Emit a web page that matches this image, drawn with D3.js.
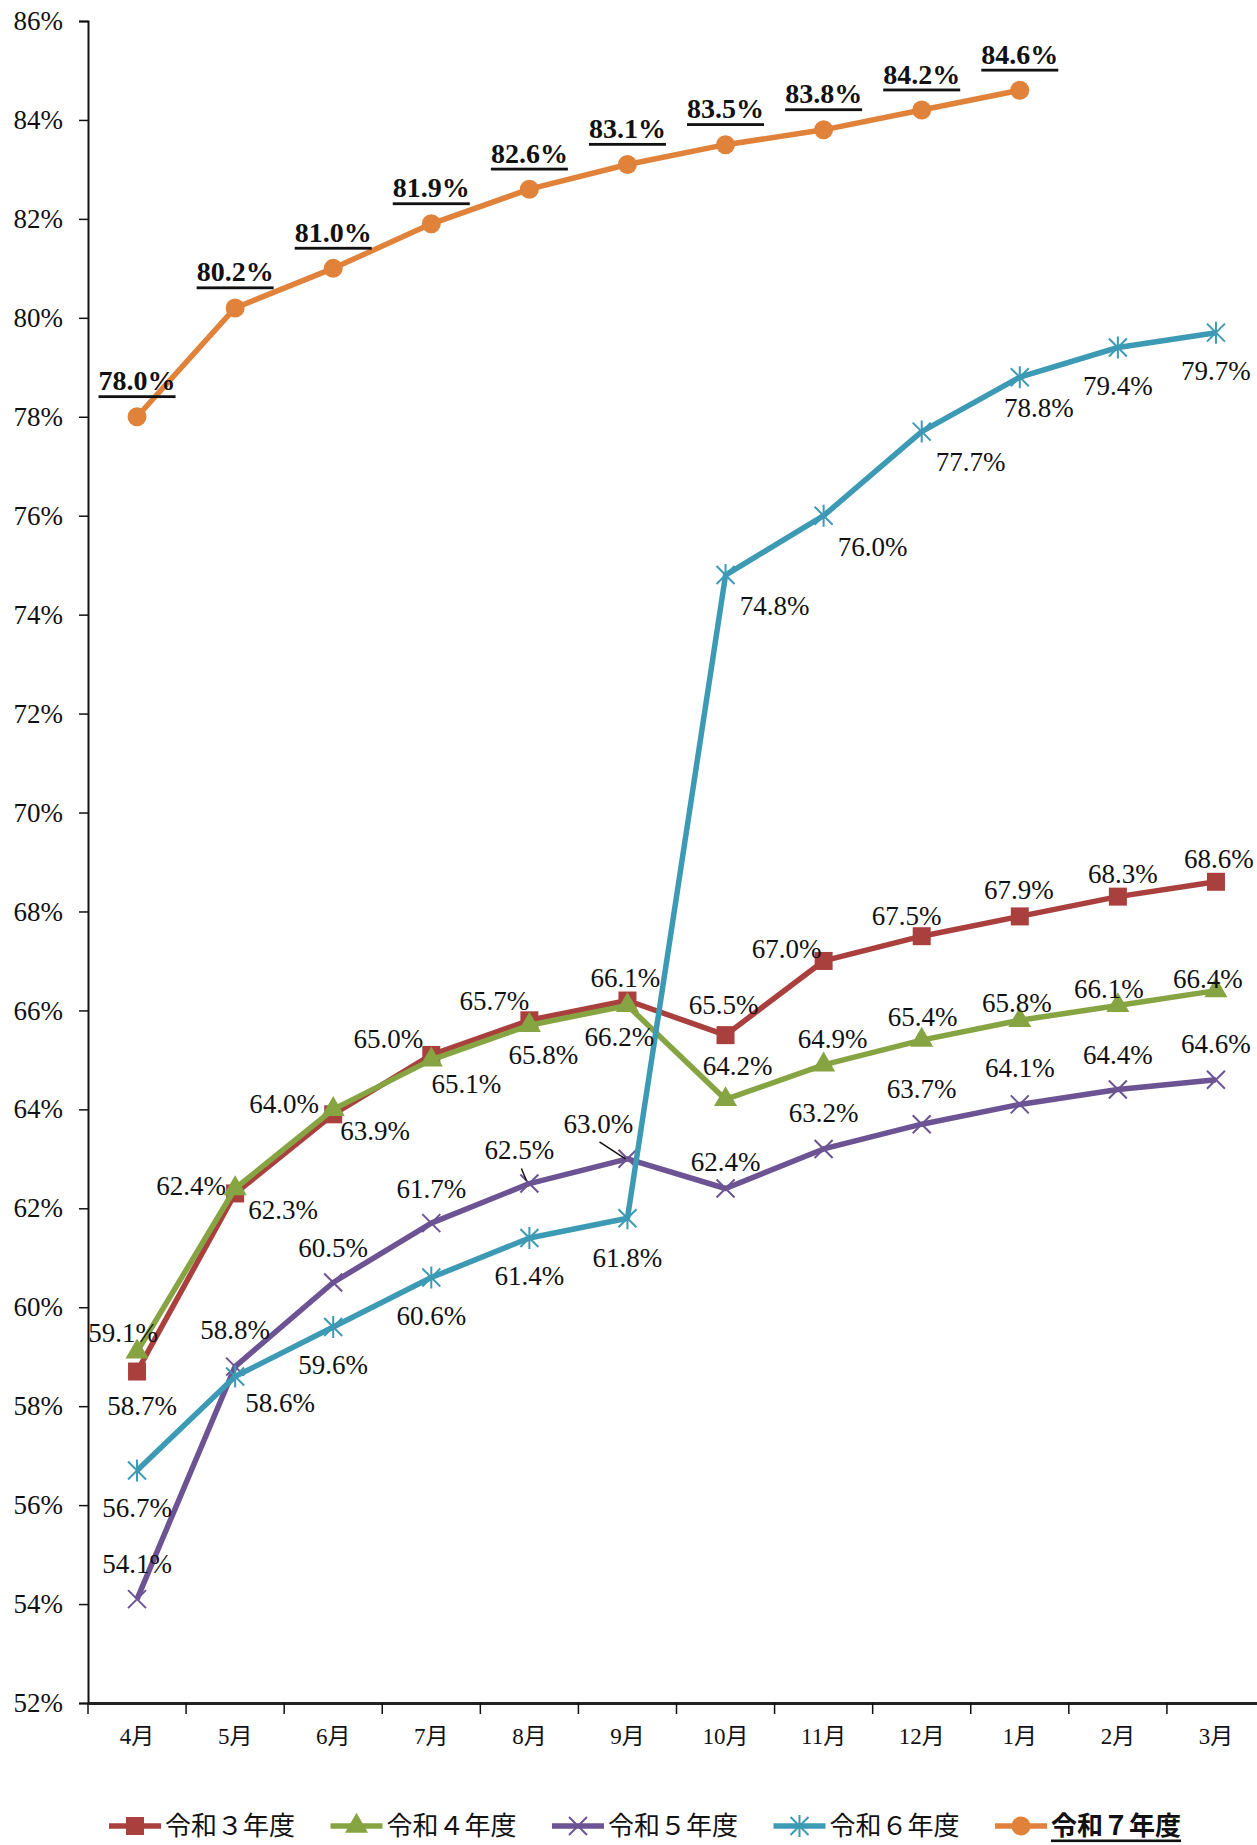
<!DOCTYPE html>
<html>
<head>
<meta charset="utf-8">
<script src="https://cdn.jsdelivr.net/npm/d3@7"></script>
<style>
  body { margin: 0; background: #fff; }
  svg { display: block; }
</style>
</head>
<body>
<svg id="chart"></svg>
<script>
// Data
const months = ["4月", "5月", "6月", "7月", "8月", "9月", "10月", "11月", "12月", "1月", "2月", "3月"];
const seriesNames = ["令和３年度", "令和４年度", "令和５年度", "令和６年度", "令和７年度"];
const r3 = [58.7, 62.3, 63.9, 65.1, 65.8, 66.2, 65.5, 67.0, 67.5, 67.9, 68.3, 68.6];
const r4 = [59.1, 62.4, 64.0, 65.0, 65.7, 66.1, 64.2, 64.9, 65.4, 65.8, 66.1, 66.4];
const r5 = [54.1, 58.8, 60.5, 61.7, 62.5, 63.0, 62.4, 63.2, 63.7, 64.1, 64.4, 64.6];
const r6 = [56.7, 58.6, 59.6, 60.6, 61.4, 61.8, 74.8, 76.0, 77.7, 78.8, 79.4, 79.7];
const r7 = [78.0, 80.2, 81.0, 81.9, 82.6, 83.1, 83.5, 83.8, 84.2, 84.6];
const yTicks = [52, 54, 56, 58, 60, 62, 64, 66, 68, 70, 72, 74, 76, 78, 80, 82, 84, 86];

// label placement (offset of label centre from its point, px)
const offR3 = [[5,34],[48,17],[42,17],[35,29],[14,35],[-8,36],[-2,-30],[-37,-12],[-15,-20],[-1,-26],[5,-23],[3,-23]];
const offR4 = [[-14,-19],[-44,-3],[-49,-5],[-43,-21],[-35,-24],[-2,-27],[12,-33],[9,-26],[1,-23],[-3,-17],[-9,-16],[-8,-12]];
const offR5 = [[0,-35],[0,-37],[0,-35],[0,-34],[-10,-34],[-29,-35],[0,-27],[0,-36],[0,-35],[0,-36],[0,-35],[0,-36]];
const offR6 = [[0,38],[45,27],[0,38],[0,38],[0,38],[0,40],[49,31],[49,31],[49,30],[19,31],[0,38],[0,38]];
const offR7 = r7.map(() => [0, -36]);
// leader lines for 令和５年度 (8月, 9月)
const leaders5 = [{ i: 4, from: [-8, -15], to: [-3, -3] }, { i: 5, from: [-28, -17], to: [-2, 0] }];

const width = 1257, height = 1845;
const margin = { top: 21, left: 88 };
const plotW = 1177, plotH = 1682;

const serif = "'Century Schoolbook', 'Liberation Serif', 'Noto Sans CJK JP', serif";
const jp = "'Liberation Serif', 'Noto Sans CJK JP', sans-serif";

const svg = d3.select("#chart").attr("width", width).attr("height", height);
const g = svg.append("g").attr("transform", `translate(${margin.left},${margin.top})`);

const x = d3.scaleBand().domain(months).range([0, plotW]);
const y = d3.scaleLinear().domain([52, 86]).range([plotH, 0]);
const px = i => x(months[i]) + x.bandwidth() / 2;

// Y axis
const yAxis = g.append("g")
  .call(d3.axisLeft(y).tickValues(yTicks).tickFormat(d => d + "%").tickSize(9).tickPadding(16));
yAxis.select(".domain").attr("stroke", "#111").attr("stroke-width", 2);
yAxis.selectAll(".tick line").attr("stroke", "#111").attr("stroke-width", 1.5);
yAxis.selectAll("text").style("font-family", serif).style("font-size", "27px").attr("fill", "#111");

// X axis
const xAxis = g.append("g").attr("transform", `translate(0,${plotH})`)
  .call(d3.axisBottom(x).tickSize(0).tickPadding(25));
xAxis.select(".domain").attr("stroke", "#222").attr("stroke-width", 3);
xAxis.selectAll("text").style("font-family", jp).style("font-size", "23px").attr("fill", "#111");
g.append("g").selectAll("line")
  .data(d3.range(months.length + 1))
  .join("line")
  .attr("x1", i => i * x.bandwidth()).attr("x2", i => i * x.bandwidth())
  .attr("y1", plotH).attr("y2", plotH + 11)
  .attr("stroke", "#111").attr("stroke-width", 1.5);

// marker drawing
function drawMarker(sel, type, color) {
  if (type === "square") {
    sel.append("rect").attr("x", -9).attr("y", -9).attr("width", 18).attr("height", 18).attr("fill", color);
  } else if (type === "triangle") {
    sel.append("path").attr("d", d3.symbol(d3.symbolTriangle, 230)()).attr("fill", color);
  } else if (type === "x") {
    sel.append("path").attr("d", "M-9,-9L9,9M-9,9L9,-9").attr("stroke", color).attr("stroke-width", 2).attr("fill", "none");
  } else if (type === "star") {
    sel.append("path").attr("d", "M-9,-9L9,9M-9,9L9,-9M0,-11L0,11").attr("stroke", color).attr("stroke-width", 2).attr("fill", "none");
  } else if (type === "circle") {
    sel.append("circle").attr("r", 9.5).attr("fill", color);
  }
}

const series = [
  { name: seriesNames[0], values: r3, color: "#A9403E", marker: "square", off: offR3 },
  { name: seriesNames[1], values: r4, color: "#87A442", marker: "triangle", off: offR4 },
  { name: seriesNames[2], values: r5, color: "#6C5393", marker: "x", off: offR5 },
  { name: seriesNames[3], values: r6, color: "#3D9AB4", marker: "star", off: offR6 },
  { name: seriesNames[4], values: r7, color: "#E0823A", marker: "circle", off: offR7, bold: true }
];

const line = d3.line().x((d, i) => px(i)).y(d => y(d));

series.forEach(s => {
  g.append("path")
    .datum(s.values)
    .attr("d", line)
    .attr("fill", "none")
    .attr("stroke", s.color)
    .attr("stroke-width", 5.5)
    .attr("stroke-linejoin", "round");

  s.values.forEach((v, i) => {
    const m = g.append("g").attr("transform", `translate(${px(i)},${y(v)})`);
    drawMarker(m, s.marker, s.color);
  });
});

// Data labels
series.forEach(s => {
  g.append("g").selectAll("text")
    .data(s.values)
    .join("text")
    .attr("x", (d, i) => px(i) + s.off[i][0])
    .attr("y", (d, i) => y(d) + s.off[i][1])
    .attr("text-anchor", "middle")
    .attr("dominant-baseline", "central")
    .style("font-family", serif)
    .style("font-size", s.bold ? "28px" : "27px")
    .style("font-weight", s.bold ? "bold" : "normal")
    .style("text-decoration", s.bold ? "underline" : "none")
    .attr("fill", "#111")
    .text(d => d.toFixed(1) + "%");
});

// Leader lines
leaders5.forEach(l => {
  const cx = px(l.i), cy = y(r5[l.i]);
  g.append("line")
    .attr("x1", cx + l.from[0]).attr("y1", cy + l.from[1])
    .attr("x2", cx + l.to[0]).attr("y2", cy + l.to[1])
    .attr("stroke", "#111").attr("stroke-width", 1.5);
});

// Legend
const legend = svg.append("g").attr("transform", "translate(109,1826)");
series.forEach((s, i) => {
  const item = legend.append("g").attr("transform", `translate(${i * 221.5},0)`);
  item.append("line").attr("x1", 0).attr("x2", 52).attr("y1", 0).attr("y2", 0)
    .attr("stroke", s.color).attr("stroke-width", 5.5);
  const m = item.append("g").attr("transform", "translate(26,0)");
  drawMarker(m, s.marker, s.color);
  item.append("text")
    .attr("x", 56).attr("y", 0)
    .attr("dominant-baseline", "central")
    .style("font-family", jp)
    .style("font-size", "26px")
    .style("font-weight", s.bold ? "bold" : "normal")
    .style("text-decoration", s.bold ? "underline" : "none")
    .attr("fill", "#111")
    .text(s.name);
});
</script>
</body>
</html>
